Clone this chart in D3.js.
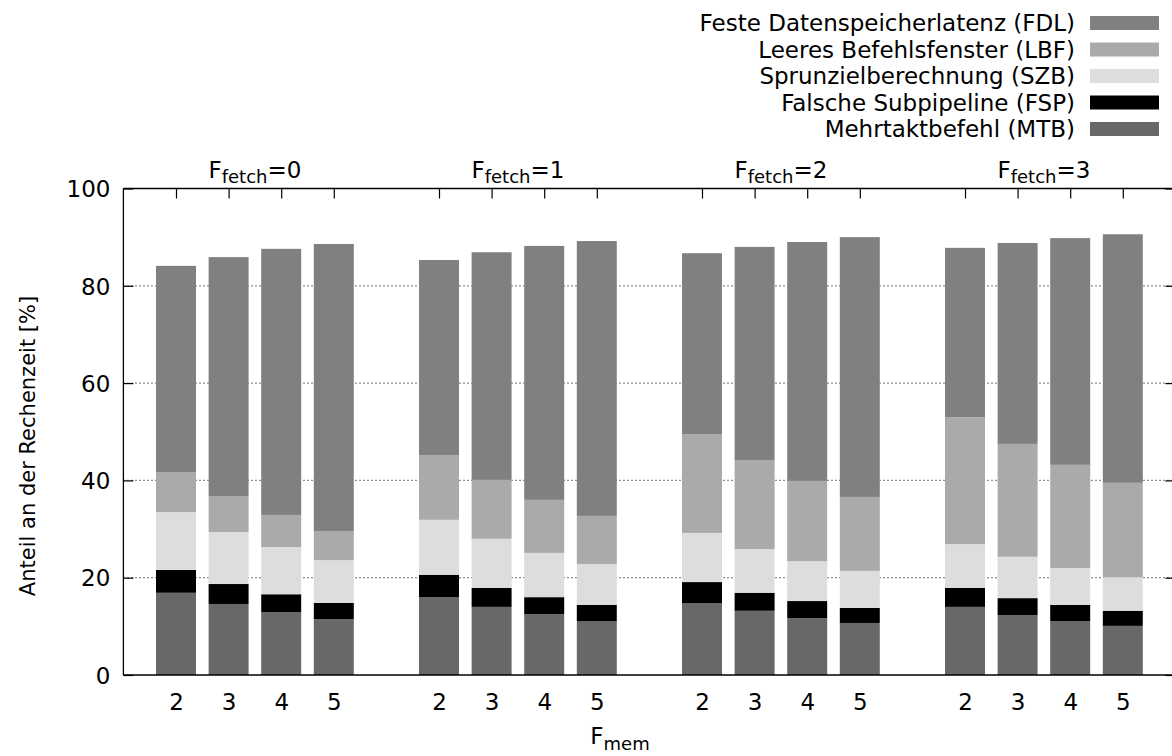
<!DOCTYPE html>
<html>
<head>
<meta charset="utf-8">
<script src="https://cdn.jsdelivr.net/npm/d3@7"></script>
<style>
  html, body { margin: 0; padding: 0; background: #fff; }
  svg { display: block; overflow: hidden; }
  text { font-family: "DejaVu Sans", sans-serif; fill: #000; }
</style>
</head>
<body>
<svg id="chart" width="1172" height="756"></svg>
<script>
// Fetch factor groups and memory factor categories
const fetchGroups = [0, 1, 2, 3];
const memCategories = ["2", "3", "4", "5"];
const yTicks = [0, 20, 40, 60, 80, 100];

// Series values (percent of run time), group-major: F_fetch 0..3, each F_mem 2..5
const mtb = [16.9, 14.6, 12.9, 11.5, 16.0, 14.0, 12.5, 11.1, 14.8, 13.2, 11.7, 10.7, 14.0, 12.3, 11.1, 10.1];
const fsp = [4.7, 4.1, 3.7, 3.3, 4.6, 3.9, 3.5, 3.3, 4.3, 3.7, 3.5, 3.1, 3.9, 3.5, 3.3, 3.1];
const szb = [11.9, 10.7, 9.7, 8.8, 11.3, 10.1, 9.1, 8.4, 10.1, 9.0, 8.2, 7.6, 9.0, 8.5, 7.6, 6.9];
const lbf = [8.2, 7.4, 6.6, 6.0, 13.3, 12.1, 10.9, 9.9, 20.3, 18.3, 16.5, 15.2, 26.1, 23.2, 21.2, 19.4];
const fdl = [42.4, 49.1, 54.7, 59.0, 40.1, 46.8, 52.2, 56.5, 37.2, 43.8, 49.1, 53.4, 34.8, 41.3, 46.6, 51.1];

// Series, bottom of stack first
const seriesKeys = ["MTB", "FSP", "SZB", "LBF", "FDL"];
const seriesNames = {
  FDL: "Feste Datenspeicherlatenz (FDL)",
  LBF: "Leeres Befehlsfenster (LBF)",
  SZB: "Sprunzielberechnung (SZB)",
  FSP: "Falsche Subpipeline (FSP)",
  MTB: "Mehrtaktbefehl (MTB)"
};
const seriesColors = { FDL: "#808080", LBF: "#aaaaaa", SZB: "#dddddd", FSP: "#000000", MTB: "#686868" };
const seriesValues = { MTB: mtb, FSP: fsp, SZB: szb, LBF: lbf, FDL: fdl };

// Table of rows for the stack layout; slot = bar position on the x axis
const rows = [];
fetchGroups.forEach((g, gi) => {
  memCategories.forEach((m, mi) => {
    const idx = gi * memCategories.length + mi;
    const row = { group: g, mem: m, slot: gi * (memCategories.length + 1) + mi + 1 };
    seriesKeys.forEach(k => { row[k] = seriesValues[k][idx]; });
    rows.push(row);
  });
});

const svg = d3.select("#chart");
const plotLeft = 123.4, plotRight = 1175.4, plotTop = 188.5, plotBottom = 675;
const nSlots = fetchGroups.length * (memCategories.length + 1);
const fontSize = 23;

const x = d3.scaleLinear().domain([0, nSlots]).range([plotLeft, plotRight]);
const y = d3.scaleLinear().domain([0, 100]).range([plotBottom, plotTop]);
const barW = (x(1) - x(0)) * 0.76;

// Dotted grid
svg.append("g").selectAll("line").data(yTicks.filter(t => t > 0)).join("line")
  .attr("x1", plotLeft).attr("x2", plotRight)
  .attr("y1", d => y(d)).attr("y2", d => y(d))
  .attr("stroke", "#444").attr("stroke-width", 1.2)
  .attr("stroke-dasharray", "1.2,2.8");

// Stacked bars
const stacked = d3.stack().keys(seriesKeys)(rows);
svg.append("g").selectAll("g").data(stacked).join("g")
  .attr("fill", d => seriesColors[d.key])
  .selectAll("rect").data(d => d).join("rect")
  .attr("x", d => x(d.data.slot) - barW / 2)
  .attr("width", barW)
  .attr("y", d => y(d[1]))
  .attr("height", d => y(d[0]) - y(d[1]));

// Border: left, bottom, top (right side lies past the edge)
const border = svg.append("g").attr("stroke", "#000").attr("stroke-width", 1.3).attr("fill", "none");
border.append("line").attr("x1", plotLeft).attr("x2", plotLeft).attr("y1", plotTop).attr("y2", plotBottom);
border.append("line").attr("x1", plotLeft).attr("x2", plotRight).attr("y1", plotBottom).attr("y2", plotBottom);
border.append("line").attr("x1", plotLeft).attr("x2", plotRight).attr("y1", plotTop).attr("y2", plotTop);
border.append("line").attr("x1", plotRight).attr("x2", plotRight).attr("y1", plotTop).attr("y2", plotBottom);

// Y axis with inward ticks, mirrored on the right
const yAxis = d3.axisLeft(y).tickValues(yTicks).tickSize(-10).tickPadding(13).tickFormat(d3.format("d"));
const gy = svg.append("g").attr("transform", `translate(${plotLeft},0)`).call(yAxis);
gy.select(".domain").remove();
gy.selectAll(".tick line").attr("stroke", "#000").attr("stroke-width", 1.2);
gy.selectAll(".tick text").attr("font-size", fontSize).attr("font-family", "DejaVu Sans").attr("dy", "0.36em");

const yAxisR = d3.axisRight(y).tickValues(yTicks).tickSize(-10).tickFormat("");
const gyr = svg.append("g").attr("transform", `translate(${plotRight},0)`).call(yAxisR);
gyr.select(".domain").remove();
gyr.selectAll(".tick line").attr("stroke", "#000").attr("stroke-width", 1.2);

// Top ticks at each bar
const slots = rows.map(r => r.slot);
const xTop = d3.axisTop(x).tickValues(slots).tickSize(-10).tickFormat("");
const gxt = svg.append("g").attr("transform", `translate(0,${plotTop})`).call(xTop);
gxt.select(".domain").remove();
gxt.selectAll(".tick line").attr("stroke", "#000").attr("stroke-width", 1.2);

// Bottom labels: F_mem category under each bar
const memLabel = d3.scaleOrdinal().domain(slots).range(rows.map(r => r.mem));
const xBottom = d3.axisBottom(x).tickValues(slots).tickSize(0).tickPadding(19).tickFormat(d => memLabel(d));
const gxb = svg.append("g").attr("transform", `translate(0,${plotBottom})`).call(xBottom);
gxb.select(".domain").remove();
gxb.selectAll(".tick text").attr("font-size", fontSize).attr("font-family", "DejaVu Sans");

// Group titles above the plot
const groupCenter = gi => x(gi * (memCategories.length + 1) + (memCategories.length + 1) / 2);
const gt = svg.append("g").selectAll("text").data(fetchGroups).join("text")
  .attr("x", (d, i) => groupCenter(i))
  .attr("y", 178)
  .attr("text-anchor", "middle")
  .attr("font-size", fontSize);
gt.append("tspan").text("F");
gt.append("tspan").attr("font-size", 18).attr("dy", 5).text("fetch");
gt.append("tspan").attr("dy", -5).text(d => "=" + d);

// Axis titles
const xt = svg.append("text").attr("x", 620).attr("y", 744).attr("text-anchor", "middle").attr("font-size", fontSize);
xt.append("tspan").text("F");
xt.append("tspan").attr("font-size", 18).attr("dy", 6).text("mem");

svg.append("text")
  .attr("transform", `translate(35,446) rotate(-90)`)
  .attr("text-anchor", "middle")
  .attr("font-size", 21)
  .text("Anteil an der Rechenzeit [%]");

// Legend, top right
const legendKeys = seriesKeys.slice().reverse();
const legendY = d3.scalePoint().domain(legendKeys).range([23, 129]);
const lg = svg.append("g").selectAll("g").data(legendKeys).join("g")
  .attr("transform", d => `translate(0,${legendY(d)})`);
lg.append("text").attr("x", 1075).attr("dy", "0.36em").attr("text-anchor", "end")
  .attr("font-size", fontSize).text(d => seriesNames[d]);
lg.append("rect").attr("x", 1090).attr("y", -7).attr("width", 69).attr("height", 14)
  .attr("fill", d => seriesColors[d]);
</script>
</body>
</html>
